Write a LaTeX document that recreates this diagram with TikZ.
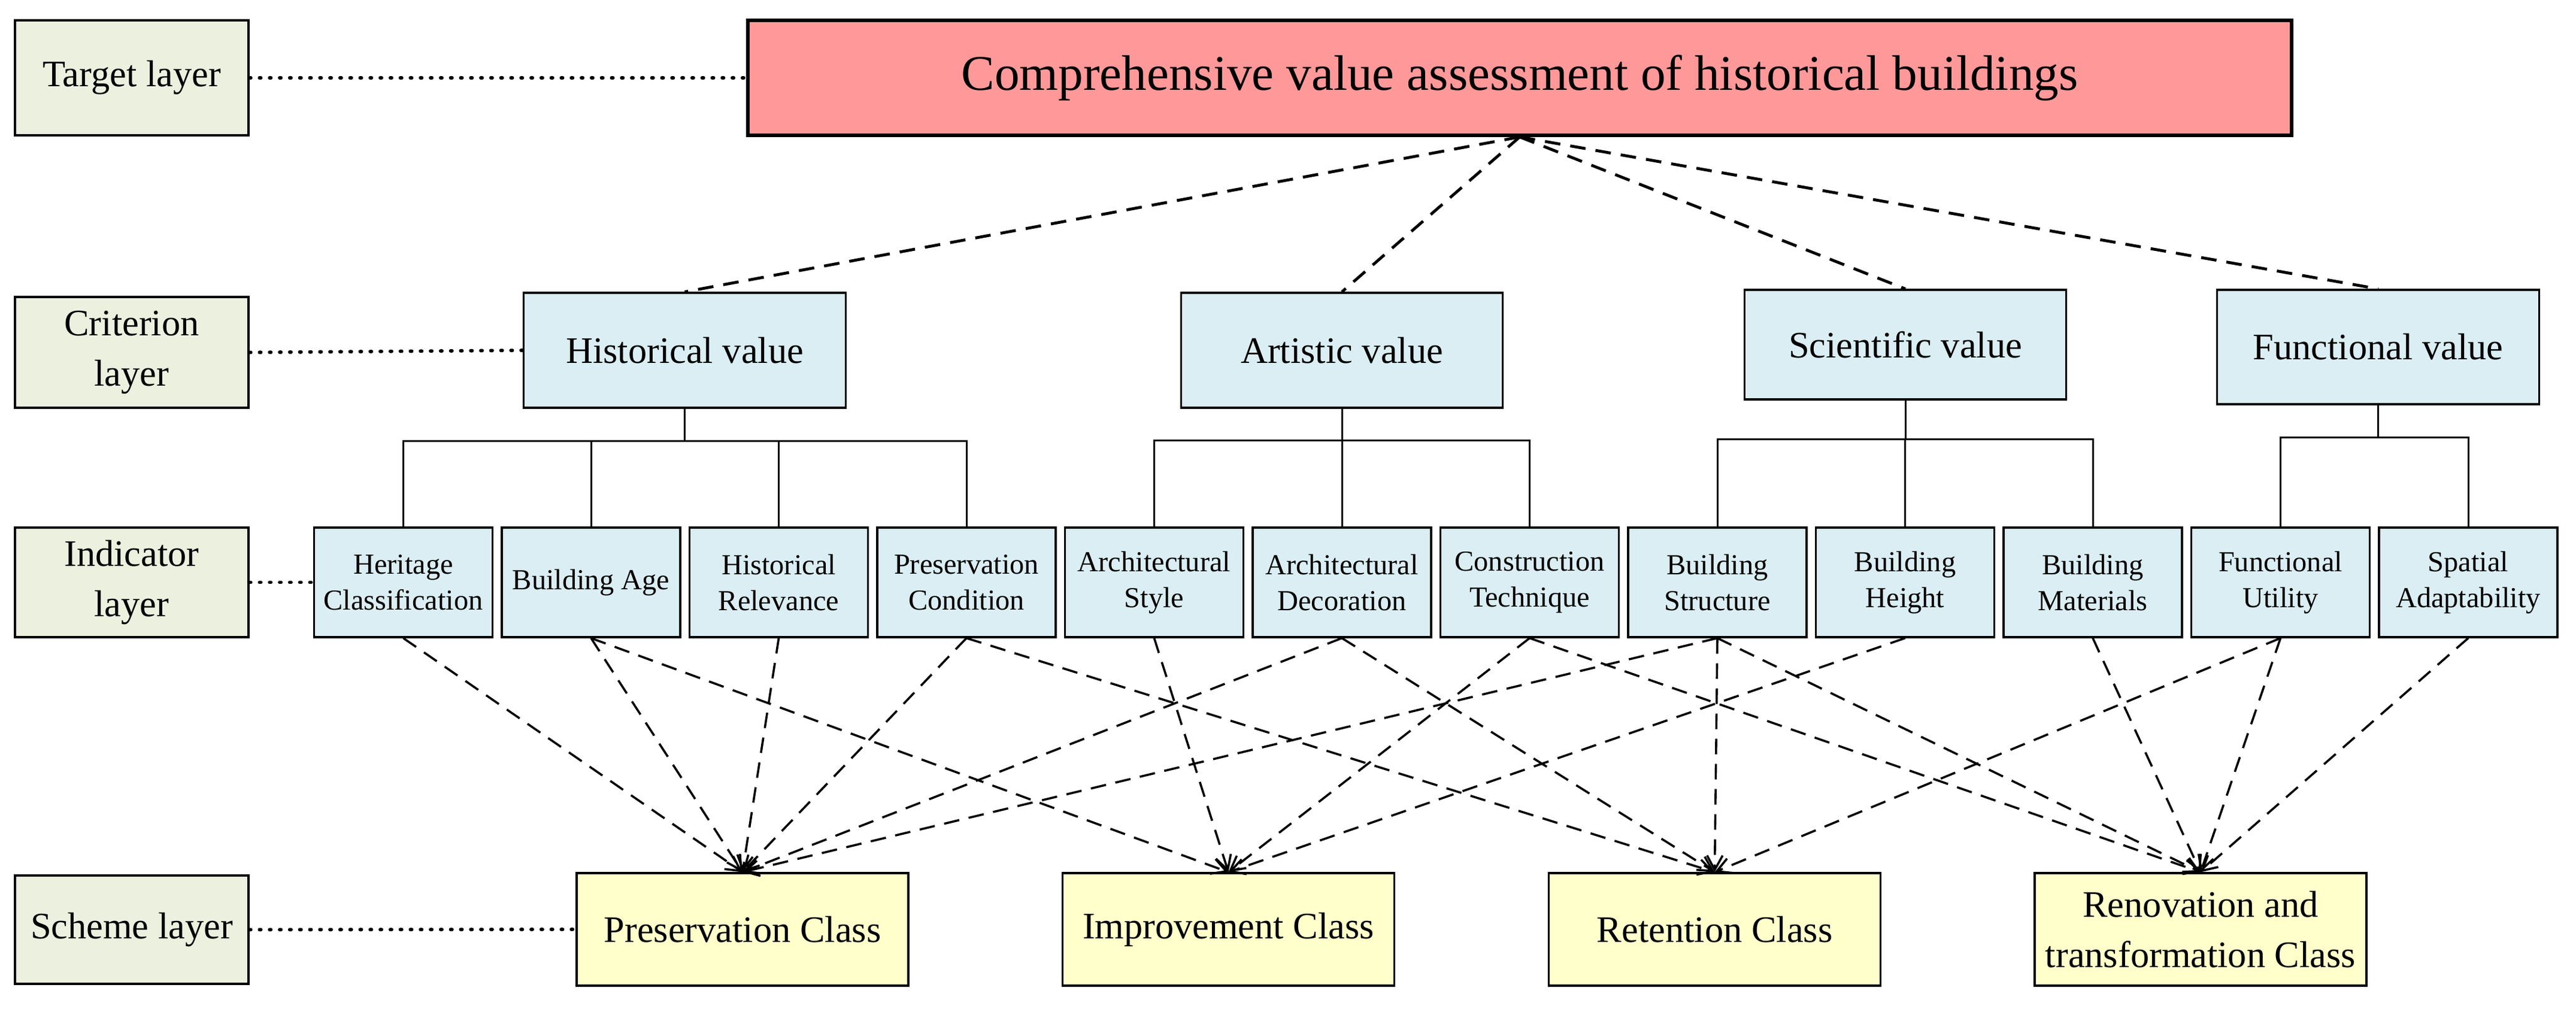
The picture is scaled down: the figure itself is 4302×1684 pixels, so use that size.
\documentclass[tikz,border=0pt]{standalone}
\usepackage{fontspec}
\setmainfont{Liberation Serif}
\usetikzlibrary{arrows.meta}
\definecolor{layergreen}{HTML}{EBF1DE}
\definecolor{critblue}{HTML}{DAEEF3}
\definecolor{schyellow}{HTML}{FFFFCC}
\definecolor{toppink}{HTML}{FF9999}
\begin{document}
\begin{tikzpicture}[x=0.25pt,y=-0.25pt,
  basebox/.style={draw, line width=0.8pt, inner sep=0pt, align=center, text=black},
  layerbox/.style={basebox, fill=layergreen, minimum width=97.5pt, font=\fontsize{15.6}{21}\selectfont},
  critbox/.style={basebox, fill=critblue, minimum width=134.4pt, font=\fontsize{15.6}{21}\selectfont},
  indbox/.style={basebox, fill=critblue, minimum width=74.5pt, minimum height=45.75pt, font=\fontsize{12.1}{15}\selectfont},
  schbox/.style={basebox, fill=schyellow, minimum width=138.5pt, minimum height=47pt, font=\fontsize{15.6}{21}\selectfont},
  topbox/.style={draw, line width=1.35pt, inner sep=0pt, fill=toppink, minimum width=644.5pt, minimum height=48pt, font=\fontsize{20.8}{25}\selectfont},
  dotline/.style={line width=1.45pt, line cap=round, dash pattern=on 0.55pt off 3.65pt},
  topdash/.style={line width=1.2pt, dash pattern=on 6.5pt off 4.2pt},
  inddash/.style={line width=0.9pt, dash pattern=on 6.5pt off 4pt, -{Straight Barb[length=6pt,width=6.5pt,line width=0.9pt]}},
  bracket/.style={line width=0.75pt}]
\useasboundingbox (0,0) rectangle (4302,1684);

% layer labels
\node[layerbox, minimum height=48pt] (lt) at (220,130) {Target layer};
\node[layerbox, minimum height=46.25pt] (lc) at (220,588.5) {Criterion\\layer};
\node[layerbox, minimum height=45.75pt] (li) at (220,972.5) {Indicator\\layer};
\node[layerbox, minimum height=45.25pt] (ls) at (220,1552.5) {Scheme layer};

% target
\node[topbox] (top) at (2538,130) {Comprehensive value assessment of historical buildings};

% criteria
\node[critbox, minimum height=48pt] (hv) at (1143.5,585) {Historical value};
\node[critbox, minimum height=48pt] (av) at (2241,585) {Artistic value};
\node[critbox, minimum height=45.75pt] (sv) at (3182,575.5) {Scientific value};
\node[critbox, minimum height=47.75pt] (fv) at (3971.5,579.5) {Functional value};

% indicators
\node[indbox] (i1) at (673.5,972.5) {Heritage\\Classification};
\node[indbox] (i2) at (987,972.5) {Building Age};
\node[indbox] (i3) at (1300.5,972.5) {Historical\\Relevance};
\node[indbox] (i4) at (1614,972.5) {Preservation\\Condition};
\node[indbox] (i5) at (1927.5,972.5) {Architectural\\Style};
\node[indbox] (i6) at (2241,972.5) {Architectural\\Decoration};
\node[indbox] (i7) at (2554.5,972.5) {Construction\\Technique};
\node[indbox] (i8) at (2868,972.5) {Building\\Structure};
\node[indbox] (i9) at (3181.5,972.5) {Building\\Height};
\node[indbox] (i10) at (3495,972.5) {Building\\Materials};
\node[indbox] (i11) at (3808.5,972.5) {Functional\\Utility};
\node[indbox] (i12) at (4122,972.5) {Spatial\\Adaptability};

% schemes
\node[schbox] (sp) at (1240,1552) {Preservation Class};
\node[schbox] (si) at (2051.5,1552) {Improvement Class};
\node[schbox] (sr) at (2863.5,1552) {Retention Class};
\node[schbox] (sn) at (3675,1552) {Renovation and\\transformation Class};

% dotted layer links
\draw[dotline] (lt.east) -- (top.west);
\draw[dotline] (lc.east) -- (hv.west);
\draw[dotline] (li.east) -- (i1.west);
\draw[dotline] (ls.east) -- (sp.west);

% target to criteria
\draw[topdash] (top.south) -- (hv.north);
\draw[topdash] (top.south) -- (av.north);
\draw[topdash] (top.south) -- (sv.north);
\draw[topdash] (top.south) -- (fv.north);

% brackets
\coordinate (hy1) at (0,736);
\coordinate (hy2) at (0,735);
\coordinate (hy3) at (0,733);
\coordinate (hy4) at (0,730);
\draw[bracket] (hv.south) -- (hv.south |- hy1);
\draw[bracket] (i1.north) |- (i4.north |- hy1) -- (i4.north);
\draw[bracket] (i2.north) -- (i2.north |- hy1);
\draw[bracket] (i3.north) -- (i3.north |- hy1);
\draw[bracket] (av.south) -- (av.south |- hy2);
\draw[bracket] (i5.north) |- (i7.north |- hy2) -- (i7.north);
\draw[bracket] (i6.north) -- (i6.north |- hy2);
\draw[bracket] (sv.south) -- (sv.south |- hy3);
\draw[bracket] (i8.north) |- (i10.north |- hy3) -- (i10.north);
\draw[bracket] (i9.north) -- (i9.north |- hy3);
\draw[bracket] (fv.south) -- (fv.south |- hy4);
\draw[bracket] (i11.north) |- (i12.north |- hy4) -- (i12.north);

% indicators to schemes
\draw[inddash] (i1.south) -- (sp.north);
\draw[inddash] (i2.south) -- (sp.north);
\draw[inddash] (i2.south) -- (si.north);
\draw[inddash] (i3.south) -- (sp.north);
\draw[inddash] (i4.south) -- (sp.north);
\draw[inddash] (i4.south) -- (sr.north);
\draw[inddash] (i5.south) -- (si.north);
\draw[inddash] (i6.south) -- (sp.north);
\draw[inddash] (i6.south) -- (sr.north);
\draw[inddash] (i7.south) -- (si.north);
\draw[inddash] (i7.south) -- (sn.north);
\draw[inddash] (i8.south) -- (sp.north);
\draw[inddash] (i8.south) -- (sr.north);
\draw[inddash] (i8.south) -- (sn.north);
\draw[inddash] (i9.south) -- (si.north);
\draw[inddash] (i10.south) -- (sn.north);
\draw[inddash] (i11.south) -- (sr.north);
\draw[inddash] (i11.south) -- (sn.north);
\draw[inddash] (i12.south) -- (sn.north);
\end{tikzpicture}
\end{document}
